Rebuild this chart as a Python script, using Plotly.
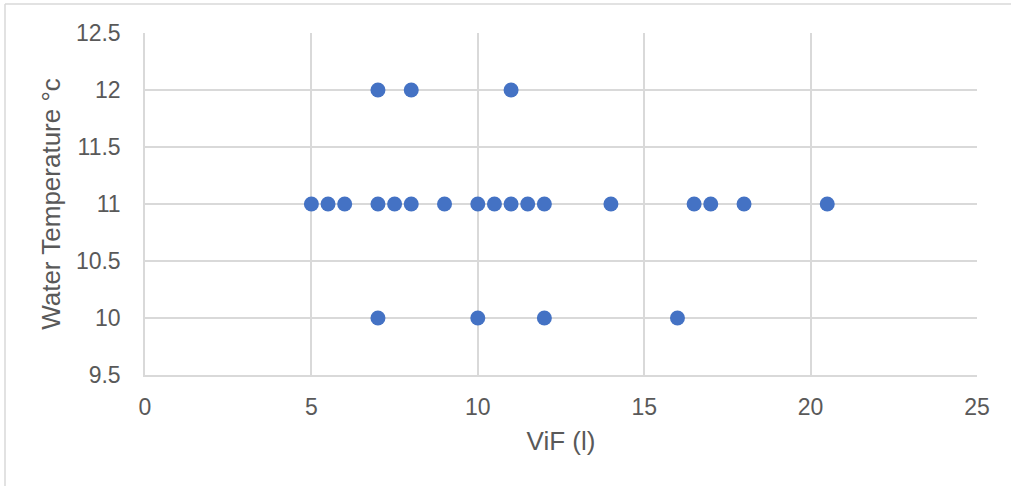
import plotly.graph_objects as go

vif = [5, 5.5, 6, 7, 7.5, 8, 9, 10, 10.5, 11, 11.5, 12, 14, 16.5, 17, 18, 20.5,
       7, 8, 11,
       7, 10, 12, 16]
temp = [11]*17 + [12]*3 + [10]*4

x_ticks = [0, 5, 10, 15, 20, 25]
y_ticks = [9.5, 10, 10.5, 11, 11.5, 12, 12.5]
y_tick_labels = ["9.5", "10", "10.5", "11", "11.5", "12", "12.5"]

W, H = 1011, 486
L, R, T, B = 145, 34, 33, 111

fig = go.Figure(go.Scatter(
    x=vif, y=temp, mode="markers",
    marker=dict(color="#4472C4", size=15, line=dict(width=0)),
    showlegend=False,
))

grid = "#D9D9D9"
txt = "#595959"
fig.update_layout(
    width=W, height=H,
    margin=dict(l=L, r=R, t=T, b=B),
    paper_bgcolor="white", plot_bgcolor="white",
    font=dict(family="Liberation Sans, Arial", color=txt, size=23),
    xaxis=dict(range=[0, 25], tickvals=x_ticks, ticktext=[str(v) for v in x_ticks],
               showgrid=True, gridcolor=grid, gridwidth=1.5,
               zeroline=False, showline=True, linecolor=grid, linewidth=1.5,
               ticks="", ticklabelstandoff=11, tickfont=dict(size=23, color=txt),
               title=dict(text="ViF (l)", font=dict(size=26, color=txt), standoff=12)),
    yaxis=dict(range=[9.5, 12.5], tickvals=y_ticks, ticktext=y_tick_labels,
               showgrid=True, gridcolor=grid, gridwidth=1.5,
               zeroline=False, showline=True, linecolor=grid, linewidth=1.5,
               ticks="", ticklabelstandoff=18, tickfont=dict(size=23, color=txt),
               title=dict(text="Water Temperature °c", font=dict(size=26, color=txt), standoff=8)),
    shapes=[
        dict(type="line", xref="paper", yref="paper",
             x0=(5 - L) / (W - L - R), x1=(5 - L) / (W - L - R),
             y0=(H - B - 4) / (H - T - B), y1=(H - B - 490) / (H - T - B),
             line=dict(color=grid, width=1.5)),
        dict(type="line", xref="paper", yref="paper",
             x0=(5 - L) / (W - L - R), x1=(1015 - L) / (W - L - R),
             y0=(H - B - 4) / (H - T - B), y1=(H - B - 4) / (H - T - B),
             line=dict(color=grid, width=1.5)),
    ],
)
fig.update_xaxes(layer="below traces")
fig.update_yaxes(layer="below traces")
fig.write_html("out.html")
